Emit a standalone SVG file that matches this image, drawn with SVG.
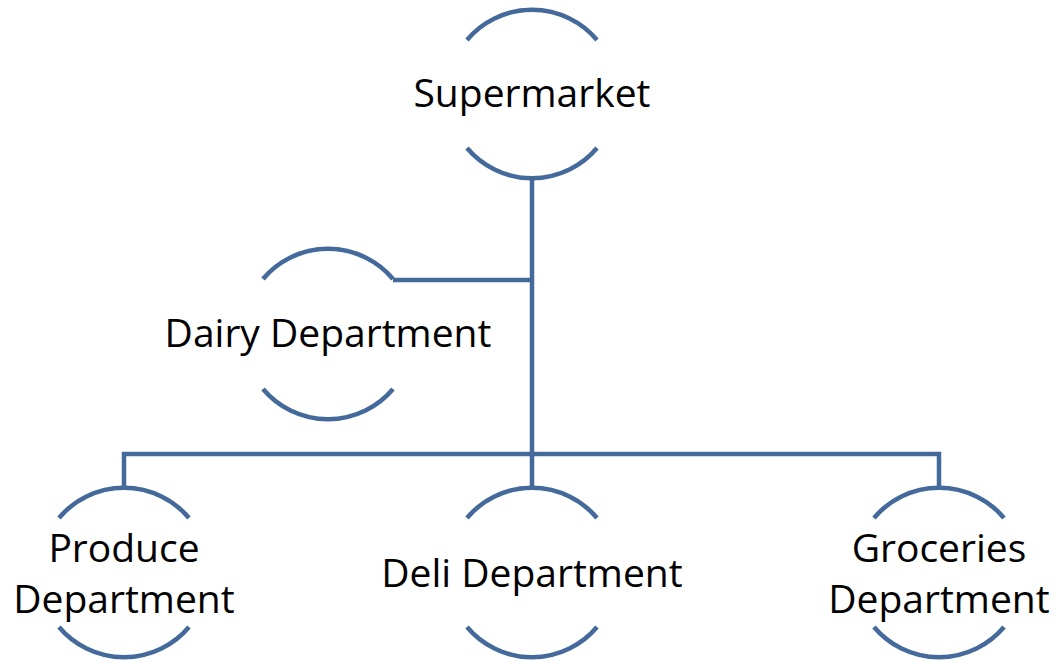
<svg xmlns="http://www.w3.org/2000/svg" width="1060" height="661" viewBox="0 0 1060 661">
<style>
.arc{fill:none;stroke:#44699B;stroke-width:4.5}
.con{fill:none;stroke:#44699B;stroke-width:4.5;stroke-linejoin:miter}
.t{font-family:"Open Sans","Liberation Sans",sans-serif;font-size:39px;fill:#000;text-anchor:middle}
</style>
<rect width="1060" height="661" fill="#fff"/>
<g id="connectors">
<path class="con" d="M532,178 V487"/>
<path class="con" d="M532,280 H393"/>
<path class="con" d="M124,487 V454 H939 V487"/>
</g>
<g id="supermarket">
<path class="arc" d="M467,40 A85,85 0 0 1 597,40"/>
<path class="arc" d="M467,148 A85,85 0 0 0 597,148"/>
<text class="t" x="532" y="107">Supermarket</text>
</g>
<g id="dairy">
<path class="arc" d="M263,279 A85,85 0 0 1 393,279"/>
<path class="arc" d="M263,389 A85,85 0 0 0 393,389"/>
<text class="t" x="328" y="347">Dairy Department</text>
</g>
<g id="produce">
<path class="arc" d="M59,518 A85,85 0 0 1 189,518"/>
<path class="arc" d="M59,627 A85,85 0 0 0 189,627"/>
<text class="t" x="124" y="562">Produce</text>
<text class="t" x="124" y="613">Department</text>
</g>
<g id="deli">
<path class="arc" d="M467,518 A85,85 0 0 1 597,518"/>
<path class="arc" d="M467,627 A85,85 0 0 0 597,627"/>
<text class="t" x="532" y="587">Deli Department</text>
</g>
<g id="groceries">
<path class="arc" d="M874,518 A85,85 0 0 1 1004,518"/>
<path class="arc" d="M874,627 A85,85 0 0 0 1004,627"/>
<text class="t" x="939" y="562">Groceries</text>
<text class="t" x="939" y="613">Department</text>
</g>
</svg>
